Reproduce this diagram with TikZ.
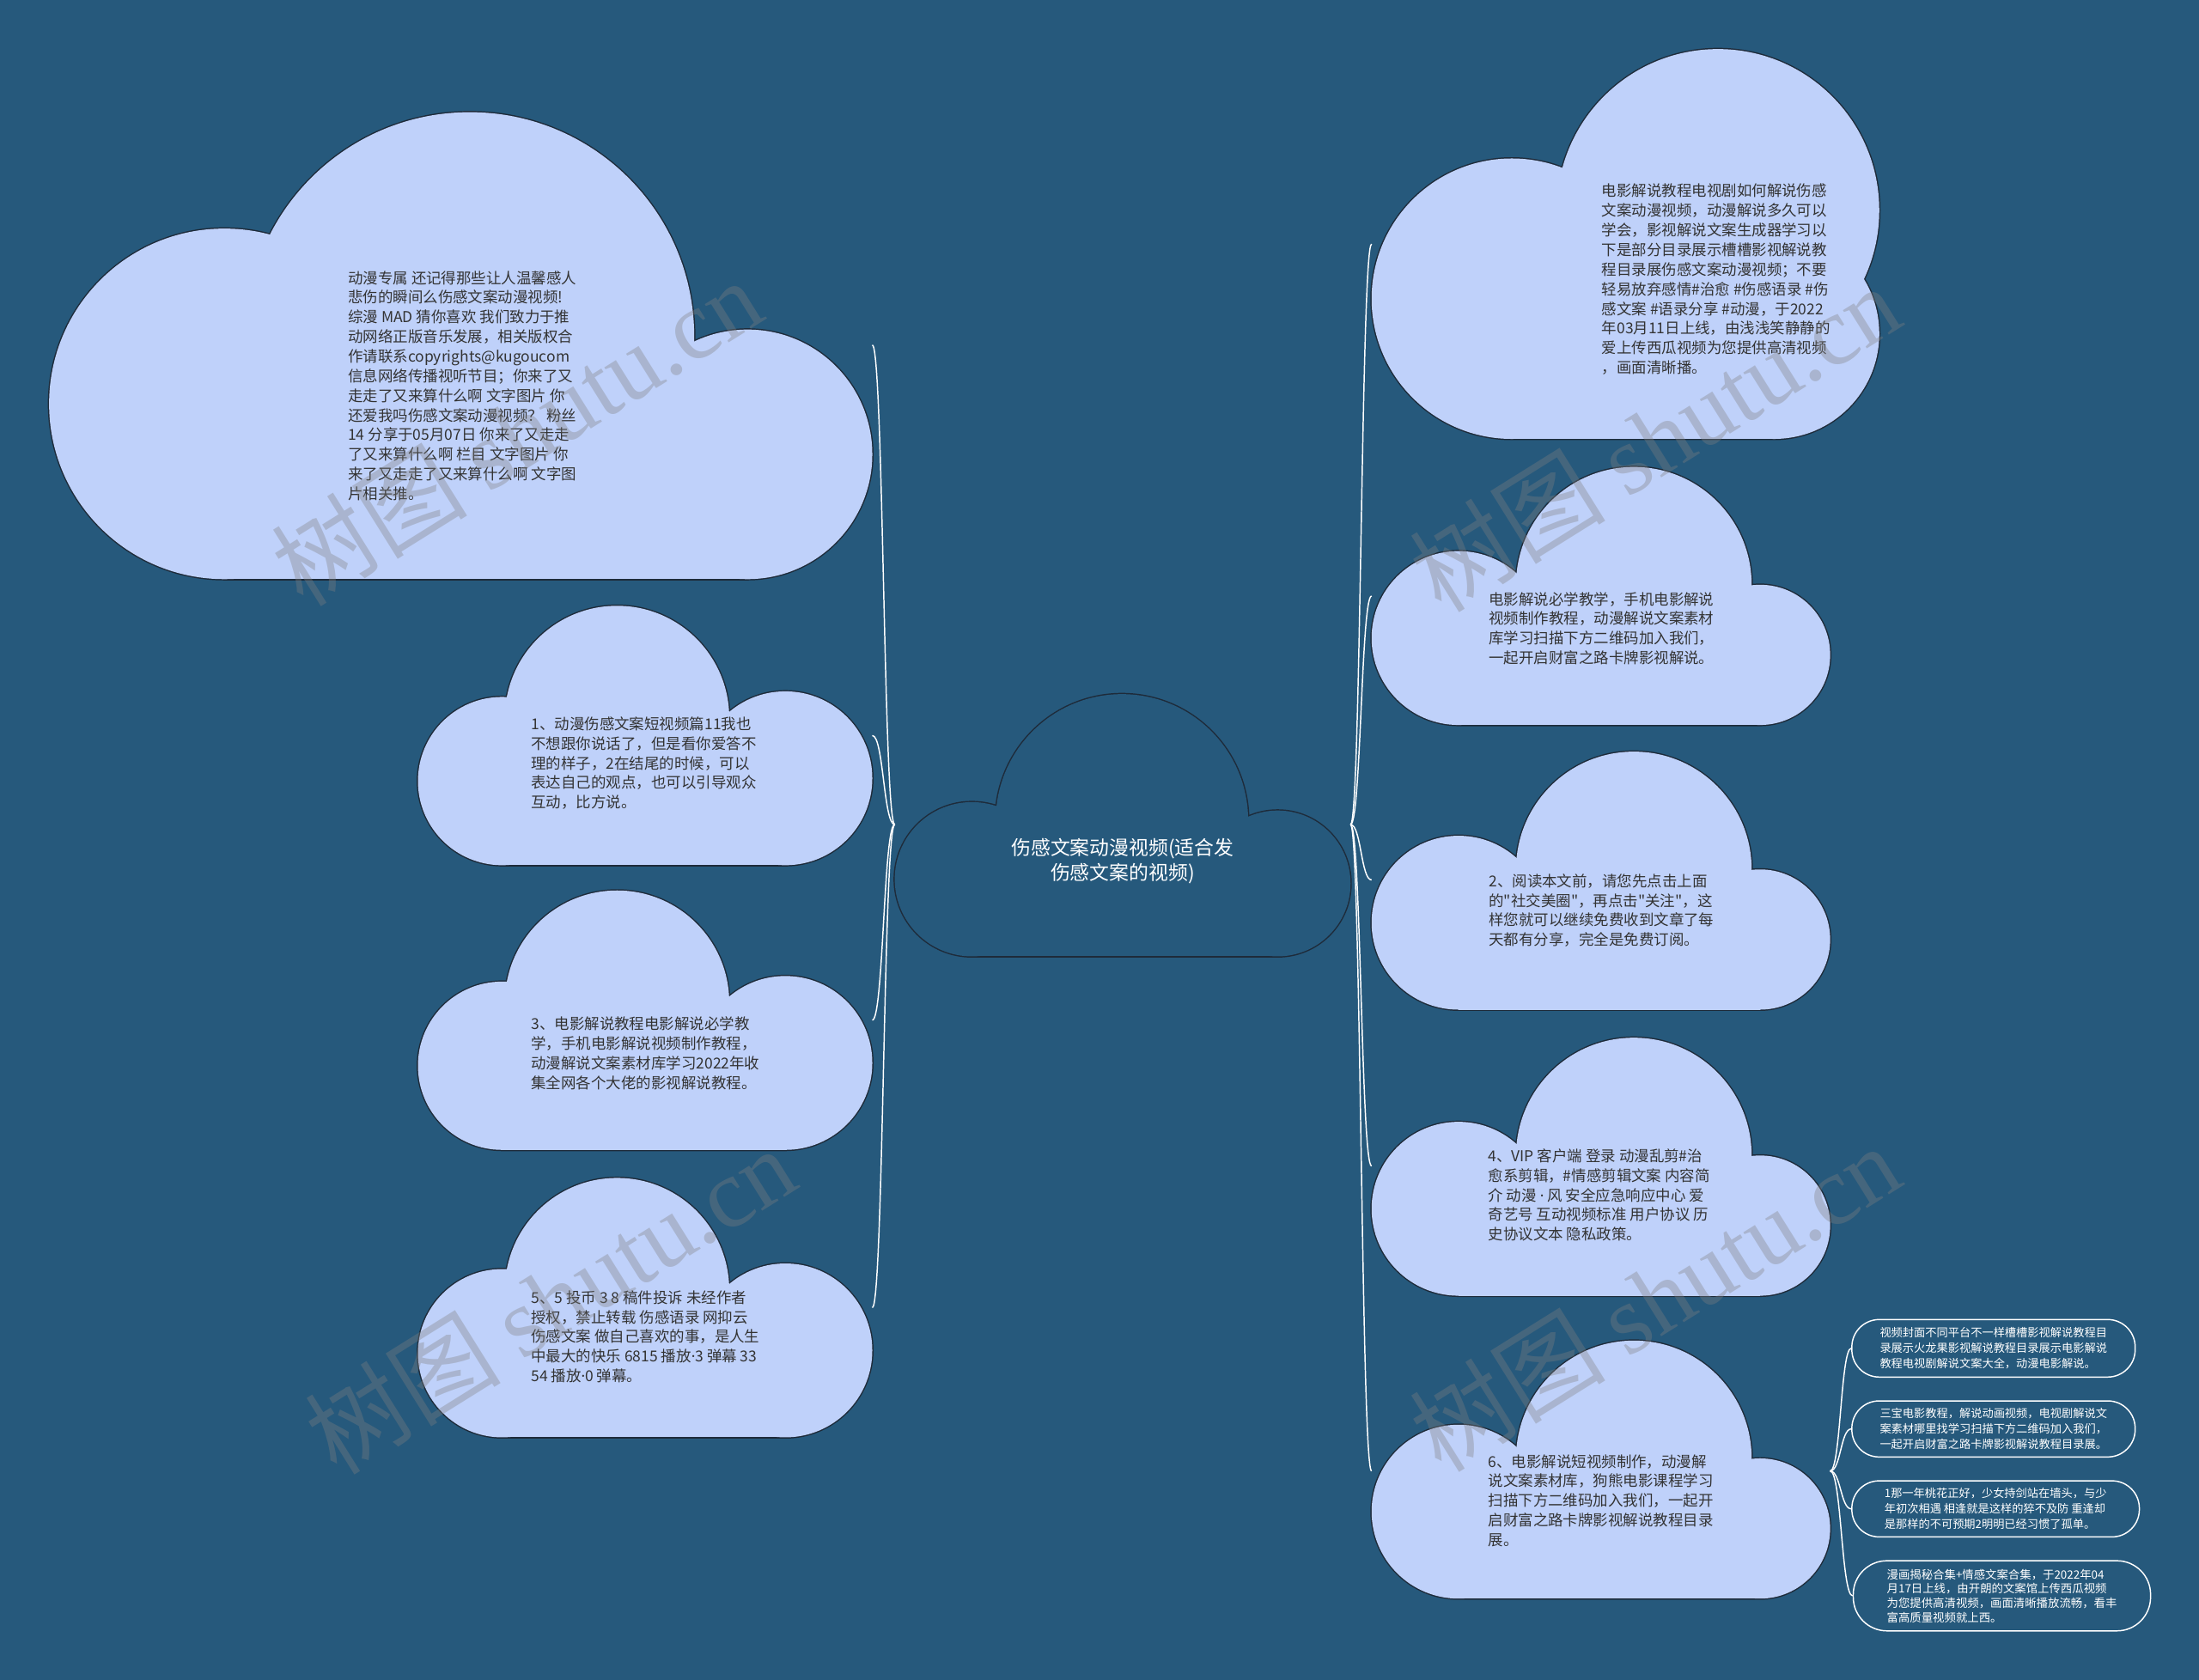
\documentclass[tikz,border=0pt]{standalone}
\usepackage{fontspec}
\newfontfamily\cjk{Noto Sans CJK SC}
\newfontfamily\latinsans{Noto Sans}
\newfontfamily\wmserif{Liberation Serif}
\usetikzlibrary{calc}
\definecolor{bg}{HTML}{26597C}
\definecolor{cloudfill}{HTML}{BFD1FA}
\definecolor{cloudline}{HTML}{1E2B3A}
\definecolor{txt}{HTML}{333333}
\newcommand\md{{\latinsans ·}}
% #1 fill, #2 bottom y, #3 left circle x, #4 left r, #5 right circle x, #6 right r, #7 big x, #8 big y, #9 big r
\newcommand\cloudshape[9]{%
  \draw[cloudline, line width=1.8pt] (#3,#2-#4) circle[radius=#4] (#5,#2-#6) circle[radius=#6] (#7,#8) circle[radius=#9] (#3,#2) rectangle (#5,{#2-min(#4,#6)});
  \fill[#1] (#3,#2-#4) circle[radius=#4];
  \fill[#1] (#5,#2-#6) circle[radius=#6];
  \fill[#1] (#7,#8) circle[radius=#9];
  \fill[#1] (#3,#2) rectangle (#5,{#2-min(#4,#6)});
}
\newcommand\lnk[2]{\draw[lnkline] (#1) .. controls ($(#1)!0.5!(#1 -| #2)$) and ($(#2)!0.5!(#2 -| #1)$) .. (#2);}
\tikzset{
  ctext/.style={text=txt, inner sep=0pt, align=left, anchor=north west, font=\cjk\fontsize{10.7}{14}\selectfont},
  roottext/.style={text=white, inner sep=0pt, align=center, font=\cjk\fontsize{14}{18}\selectfont},
  pill/.style={draw=white, line width=0.9pt, fill=bg, text=white, rounded corners=19.5pt, inner sep=0pt, align=left, font=\cjk\fontsize{8.1}{11}\selectfont, anchor=west},
  lnkline/.style={draw=white, line width=0.9pt},
  wm/.style={text=gray, opacity=0.35, inner sep=0pt, font=\fontsize{70}{72}\selectfont}
}
\begin{document}
\begin{tikzpicture}[x=1pt,y=-1pt]
\fill[bg] (0,0) rectangle (1568,1198);
\useasboundingbox (0,0) rectangle (1568,1198);

% anchor coordinates
\coordinate (root-w) at (638,588);
\coordinate (root-e) at (963,588);
\coordinate (tl-e) at (622,246);
\coordinate (l1-e) at (622,524.5);
\coordinate (l3-e) at (622,727.5);
\coordinate (l5-e) at (622,932.5);
\coordinate (rt-w) at (978,174);
\coordinate (r1-w) at (978,425);
\coordinate (r2-w) at (978,627.5);
\coordinate (r4-w) at (978,831.5);
\coordinate (r6-w) at (978,1049);
\coordinate (r6-e) at (1305,1049);

% connectors
\lnk{root-w}{tl-e}
\lnk{root-w}{l1-e}
\lnk{root-w}{l3-e}
\lnk{root-w}{l5-e}
\lnk{root-e}{rt-w}
\lnk{root-e}{r1-w}
\lnk{root-e}{r2-w}
\lnk{root-e}{r4-w}
\lnk{root-e}{r6-w}

% clouds
\cloudshape{cloudfill}{413}{160}{125}{533}{89}{335}{240}{160}
\cloudshape{bg}{682}{693}{55}{911}{52}{800}{585}{90}
\cloudshape{cloudfill}{313}{1078}{100}{1265}{75}{1225}{150}{115}
\cloudshape{cloudfill}{617}{358}{60}{560}{62}{440}{512}{80}
\begin{scope}[shift={(0,203)}]
\cloudshape{cloudfill}{617}{358}{60}{560}{62}{440}{512}{80}
\end{scope}
\begin{scope}[shift={(0,408)}]
\cloudshape{cloudfill}{617}{358}{60}{560}{62}{440}{512}{80}
\end{scope}
\cloudshape{cloudfill}{517}{1040}{62}{1255}{50}{1165}{417}{84}
\begin{scope}[shift={(0,203)}]
\cloudshape{cloudfill}{517}{1040}{62}{1255}{50}{1165}{417}{84}
\end{scope}
\begin{scope}[shift={(0,407)}]
\cloudshape{cloudfill}{517}{1040}{62}{1255}{50}{1165}{417}{84}
\end{scope}
\begin{scope}[shift={(0,623)}]
\cloudshape{cloudfill}{517}{1040}{62}{1255}{50}{1165}{417}{84}
\end{scope}

% texts
\node[roottext] (root) at (800.5,614) {伤感文案动漫视频(适合发\\伤感文案的视频)};

\node[ctext] (tl) at (248,193) {动漫专属 还记得那些让人温馨感人\\悲伤的瞬间么伤感文案动漫视频!\\综漫 MAD 猜你喜欢 我们致力于推\\动网络正版音乐发展，相关版权合\\作请联系copyrights@kugoucom\\信息网络传播视听节目；你来了又\\走走了又来算什么啊 文字图片 你\\还爱我吗伤感文案动漫视频？ 粉丝\\14 分享于05月07日 你来了又走走\\了又来算什么啊 栏目 文字图片 你\\来了又走走了又来算什么啊 文字图\\片相关推。};

\node[ctext] (rt) at (1142,131) {电影解说教程电视剧如何解说伤感\\文案动漫视频，动漫解说多久可以\\学会，影视解说文案生成器学习以\\下是部分目录展示槽槽影视解说教\\程目录展伤感文案动漫视频；不要\\轻易放弃感情\#治愈 \#伤感语录 \#伤\\感文案 \#语录分享 \#动漫，于2022\\年03月11日上线，由浅浅笑静静的\\爱上传西瓜视频为您提供高清视频\\，画面清晰播。};

\node[ctext] (l1) at (378.6,511) {1、动漫伤感文案短视频篇11我也\\不想跟你说话了，但是看你爱答不\\理的样子，2在结尾的时候，可以\\表达自己的观点，也可以引导观众\\互动，比方说。};

\node[ctext] (l3) at (378.6,725) {3、电影解说教程电影解说必学教\\学，手机电影解说视频制作教程，\\动漫解说文案素材库学习2022年收\\集全网各个大佬的影视解说教程。};

\node[ctext] (l5) at (378.6,920) {5、5 投币 3 8 稿件投诉 未经作者\\授权，禁止转载 伤感语录 网抑云\\伤感文案 做自己喜欢的事，是人生\\中最大的快乐 6815 播放\md3 弹幕 33\\54 播放\md0 弹幕。};

\node[ctext] (r1) at (1061.5,422) {电影解说必学教学，手机电影解说\\视频制作教程，动漫解说文案素材\\库学习扫描下方二维码加入我们，\\一起开启财富之路卡牌影视解说。};

\node[ctext] (r2) at (1061.5,623) {2、阅读本文前，请您先点击上面\\的"社交美圈"，再点击"关注"，这\\样您就可以继续免费收到文章了每\\天都有分享，完全是免费订阅。};

\node[ctext] (r4) at (1061,819) {4、VIP 客户端 登录 动漫乱剪\#治\\愈系剪辑，\#情感剪辑文案 内容简\\介 动漫 \md{} 风 安全应急响应中心 爱\\奇艺号 互动视频标准 用户协议 历\\史协议文本 隐私政策。};

\node[ctext] (r6) at (1061,1037) {6、电影解说短视频制作，动漫解\\说文案素材库，狗熊电影课程学习\\扫描下方二维码加入我们，一起开\\启财富之路卡牌影视解说教程目录\\展。};

% pills
\node[pill, minimum width=202pt, minimum height=41pt] (p1) at (1320,961.5) {视频封面不同平台不一样槽槽影视解说教程目\\录展示火龙果影视解说教程目录展示电影解说\\教程电视剧解说文案大全，动漫电影解说。};
\node[pill, minimum width=202pt, minimum height=40pt] (p2) at (1320,1019) {三宝电影教程，解说动画视频，电视剧解说文\\案素材哪里找学习扫描下方二维码加入我们，\\一起开启财富之路卡牌影视解说教程目录展。};
\node[pill, minimum width=205pt, minimum height=40pt] (p3) at (1320,1076) {1那一年桃花正好，少女持剑站在墙头，与少\\年初次相遇 相逢就是这样的猝不及防 重逢却\\是那样的不可预期2明明已经习惯了孤单。};
\node[pill, minimum width=212pt, minimum height=50pt, rounded corners=24pt, font=\cjk\fontsize{8.2}{10.2}\selectfont] (p4) at (1321,1138) {漫画揭秘合集+情感文案合集，于2022年04\\月17日上线，由开朗的文案馆上传西瓜视频\\为您提供高清视频，画面清晰播放流畅，看丰\\富高质量视频就上西。};

\lnk{r6-e}{p1.west}
\lnk{r6-e}{p2.west}
\lnk{r6-e}{p3.west}
\lnk{r6-e}{p4.west}

% watermarks
\node[wm, rotate=32] (wm1) at (368,308) {\cjk 树图 \wmserif shutu.cn};
\node[wm, rotate=32] (wm2) at (1180,312) {\cjk 树图 \wmserif shutu.cn};
\node[wm, rotate=32] (wm3) at (392,927) {\cjk 树图 \wmserif shutu.cn};
\node[wm, rotate=32] (wm4) at (1180,925) {\cjk 树图 \wmserif shutu.cn};
\end{tikzpicture}
\end{document}
